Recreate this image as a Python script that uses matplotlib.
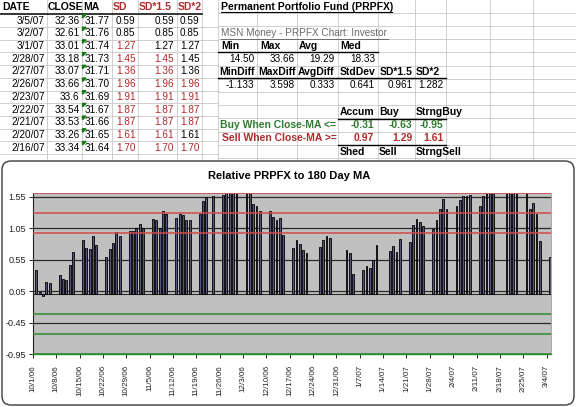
import numpy as np
import pandas as pd
import matplotlib
matplotlib.use('Agg')
import matplotlib.pyplot as plt
from matplotlib.patches import FancyBboxPatch, Polygon
from datetime import datetime, timedelta

plt.rcParams['font.family'] = ['Liberation Sans', 'DejaVu Sans']

# ---- spreadsheet data ----
table_dates = ['3/5/07', '3/2/07', '3/1/07', '2/28/07', '2/27/07', '2/26/07',
               '2/23/07', '2/22/07', '2/21/07', '2/20/07', '2/16/07']
table_close = [32.36, 32.61, 33.01, 33.18, 33.07, 33.66, 33.6, 33.54, 33.53, 33.26, 33.34]
table_ma = [31.77, 31.76, 31.74, 31.73, 31.71, 31.70, 31.69, 31.67, 31.66, 31.65, 31.64]

price_hdr = ['Min', 'Max', 'Avg', 'Med']
price_stats = ['14.50', '33.66', '19.29', '18.33']
diff_hdr = ['MinDiff', 'MaxDiff', 'AvgDiff', 'StdDev', 'SD*1.5', 'SD*2']
diff_stats = ['-1.133', '3.598', '0.333', '0.641', '0.961', '1.282']
avg_diff = 0.333
std_diff = 0.641
sd_mult = [1.0, 1.5, 2.0]

buy_names = ['Accum', 'Buy', 'StrngBuy']
sell_names = ['Shed', 'Sell', 'StrngSell']
buy_levels = [-0.31, -0.63, -0.95]
sell_levels = [0.97, 1.29, 1.61]

# ---- chart data (close minus 180 day MA) ----
market_holidays = ['2006-11-23', '2006-12-25', '2007-01-01', '2007-01-02',
                   '2007-01-15', '2007-02-19']
bar_values = [0.39, 0.03, -0.02, 0.19, 0.18,
              0.31, 0.25, 0.23, 0.46, 0.67,
              0.87, 0.74, 0.72, 0.93, 0.79,
              0.60, 0.72, 0.81, 0.99, 0.92,
              1.01, 1.01, 1.06, 1.11, 1.05,
              1.20, 1.18, 1.06, 1.33, 1.28,
              1.22, 1.28, 1.26, 1.18, 1.18,
              1.27, 1.48, 1.54, 1.57,
              1.58, 1.62, 1.68, 1.72, 1.70,
              1.75, 1.66, 1.44, 1.41, 1.32,
              1.33, 1.23, 1.18, 1.22, 0.94,
              0.73, 0.86, 0.80, 0.71, 0.65,
              0.75, 0.87, 0.92, 0.89,
              0.70, 0.65, 0.32,
              0.39, 0.45, 0.41, 0.55, 0.78,
              0.68, 0.77, 0.67, 0.88,
              0.83, 1.10, 1.19, 1.15, 1.08,
              1.03, 1.18, 1.36, 1.52, 1.36,
              1.41, 1.50, 1.56, 1.57, 1.58,
              1.41, 1.57, 1.64, 1.68, 1.70,
              1.61, 1.87, 1.87, 1.91,
              1.96, 1.36, 1.45, 1.27, 0.85,
              0.59]
bar_dates = [d for d in pd.bdate_range('2006-10-02', '2007-03-05')
             if d.strftime('%Y-%m-%d') not in market_holidays]

RED_TXT = '#b02a2a'
GREEN_TXT = '#2f7a2f'
GRID = '#c8c8c8'

fig = plt.figure(figsize=(5.76, 4.07), dpi=100, facecolor='white')
sheet = fig.add_axes([0, 0, 1, 1])
sheet.set_xlim(0, 576)
sheet.set_ylim(407, 0)
sheet.axis('off')

# cell grid
left_cols = [47, 82, 112, 138, 177, 202, 218]
right_cols = [257, 297, 338, 378, 415, 446, 490, 533]
for x in left_cols + right_cols:
    sheet.plot([x, x], [0, 161], color=GRID, lw=0.6, zorder=1)
for k in range(1, 12):
    y = 14.35 + 12.7 * k
    sheet.plot([0, 218], [y, y], color=GRID, lw=0.6, zorder=1)
for k in range(0, 12):
    y = 12.8 + 13.2 * k
    sheet.plot([218, 576], [y, y], color=GRID, lw=0.6, zorder=1)

# left table
fs = 7.2
bfs = 7.5
hdr_x = [2, 48, 83, 113, 139, 178]
hdr_txt = ['DATE', 'CLOSE', 'MA', 'SD', 'SD*1.5', 'SD*2']
for i, (x, t) in enumerate(zip(hdr_x, hdr_txt)):
    sheet.text(x, 7, t, fontsize=bfs, fontweight='bold', va='center',
               color=RED_TXT if i >= 3 else 'black', zorder=3)
sheet.plot([0, 202], [14, 14], color='black', lw=1.1, zorder=2)

for i in range(len(table_dates)):
    y = 20.7 + 12.7 * i
    diff = table_close[i] - table_ma[i]
    sheet.text(45, y, table_dates[i], fontsize=fs, ha='right', va='center', zorder=3)
    sheet.text(79.5, y, '%g' % table_close[i], fontsize=fs, ha='right', va='center', zorder=3)
    sheet.text(110, y, '%.2f' % table_ma[i], fontsize=fs, ha='right', va='center', zorder=3)
    top = y - 6.2
    sheet.add_patch(Polygon([[82.5, top], [86, top], [82.5, top + 3.5]],
                            closed=True, color='#117a11', zorder=3))
    for x, m in zip([135.5, 174, 199.5], sd_mult):
        col = RED_TXT if diff >= avg_diff + m * std_diff else 'black'
        sheet.text(x, y, '%.2f' % diff, fontsize=fs, ha='right', va='center',
                   color=col, zorder=3)

# right block
sheet.text(221, 6.5, 'Permanent Portfolio Fund (PRPFX)', fontsize=bfs,
           fontweight='bold', va='center', zorder=3)
sheet.plot([221, 392], [12.3, 12.3], color='black', lw=0.8, zorder=3)
sheet.text(221, 33, 'MSN Money - PRPFX Chart: Investor', fontsize=fs,
           color='#6b6b6b', va='center', zorder=3)
sheet.plot([221, 388], [38.6, 38.6], color='#6b6b6b', lw=0.7, zorder=3)

for x, t in zip([221, 260, 299, 340], price_hdr):
    sheet.text(x, 45.7, t, fontsize=bfs, fontweight='bold', va='center', zorder=3)
sheet.plot([218, 378], [52, 52], color='black', lw=1.0, zorder=2)
for x, t in zip([255, 295, 334.5, 375], price_stats):
    sheet.text(x, 59.2, t, fontsize=fs, ha='right', va='center', zorder=3)

for x, t in zip([219, 258, 298, 340, 380, 416], diff_hdr):
    sheet.text(x, 71.7, t, fontsize=bfs, fontweight='bold', va='center', zorder=3)
sheet.plot([218, 446], [78, 78], color='black', lw=1.0, zorder=2)
for x, t in zip([254.5, 295, 334.5, 375, 412.5, 443.5], diff_stats):
    sheet.text(x, 85.5, t, fontsize=fs, ha='right', va='center', zorder=3)

for x, t in zip([340, 379, 416], buy_names):
    sheet.text(x, 112, t, fontsize=bfs, fontweight='bold', va='center', zorder=3)
sheet.plot([338, 446], [118.5, 118.5], color='black', lw=1.0, zorder=2)
sheet.text(336.5, 125.5, 'Buy When Close-MA <=', fontsize=bfs, fontweight='bold',
           color=GREEN_TXT, ha='right', va='center', zorder=3)
sheet.text(336.5, 138.3, 'Sell When Close-MA >=', fontsize=bfs, fontweight='bold',
           color=RED_TXT, ha='right', va='center', zorder=3)
for x, b, s in zip([374.5, 412.5, 443.5], buy_levels, sell_levels):
    sheet.text(x, 125.5, '%.2f' % b, fontsize=bfs, fontweight='bold',
               color=GREEN_TXT, ha='right', va='center', zorder=3)
    sheet.text(x, 138.3, '%.2f' % s, fontsize=bfs, fontweight='bold',
               color=RED_TXT, ha='right', va='center', zorder=3)
sheet.plot([338, 446], [145.3, 145.3], color='black', lw=1.0, zorder=2)
for x, t in zip([340, 379, 416], sell_names):
    sheet.text(x, 152, t, fontsize=bfs, fontweight='bold', va='center', zorder=3)

# chart frame
frame = FancyBboxPatch((2, 161), 572, 244, boxstyle='round,pad=0,rounding_size=9',
                       facecolor='white', edgecolor='#3c3c3c', lw=1.0, zorder=5)
sheet.add_patch(frame)
sheet.text(289, 176, 'Relative PRPFX to 180 Day MA', fontsize=8.0,
           fontweight='bold', ha='center', va='center', zorder=6)

# chart
ax = fig.add_axes([33 / 576, 1 - 354 / 407, 518 / 576, 161 / 407])
ax.set_facecolor('#c0c0c0')
ax.bar(bar_dates, bar_values, width=0.55, color='#55557a', edgecolor='black',
       linewidth=0.6, zorder=2)

yticks = np.arange(-0.95, 1.56, 0.5)
for yv in yticks:
    ax.axhline(yv, color='#2a2a2a', lw=0.9, zorder=1)
ax.axhline(0, color='#2a2a2a', lw=0.8, zorder=1.5)
for yv in sell_levels:
    ax.axhline(yv, color='#d24a4a', lw=1.1, zorder=3)
for yv in buy_levels:
    ax.axhline(yv, color='#2f8a2f', lw=1.1, zorder=3)

ax.set_ylim(-0.95, 1.61)
ax.set_yticks(yticks)
ax.set_yticklabels(['%.2f' % v for v in yticks], fontsize=6.5, color='#222222')
ax.tick_params(axis='y', length=3, width=0.6, pad=2)

ax.set_xlim(datetime(2006, 10, 1), datetime(2007, 3, 5, 8))
xt = [datetime(2006, 10, 1) + timedelta(days=7 * k) for k in range(23)]
ax.set_xticks(xt)
ax.set_xticklabels(['%d/%d/%s' % (d.month, d.day, d.strftime('%y')) for d in xt],
                   rotation=90, fontsize=5.8, color='#222222')
ax.tick_params(axis='x', length=3, width=0.6, pad=5)

for side in ['top', 'right']:
    ax.spines[side].set_color('#9a9a9a')
    ax.spines[side].set_linewidth(0.6)
ax.spines['left'].set_color('#222222')
ax.spines['left'].set_linewidth(0.8)
ax.spines['bottom'].set_color('#2f8a2f')
ax.spines['bottom'].set_linewidth(1.0)

fig.savefig('out.png', dpi=100)
